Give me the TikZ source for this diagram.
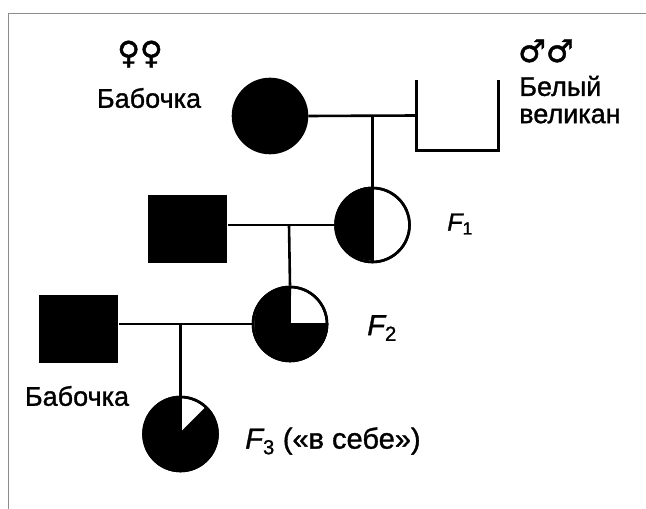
\documentclass[tikz,border=0pt]{standalone}
\usepackage{fontspec}
\setmainfont{Liberation Sans}[FakeBold=1.2]
\newfontfamily\symfont{DejaVu Sans}[FakeBold=1.5]
\begin{document}
\begin{tikzpicture}[x=1pt,y=1pt,
  line width=2.6pt,
  female/.style={circle, draw, minimum size=74pt, inner sep=0pt},
  male/.style={rectangle, minimum width=79pt, minimum height=68pt, inner sep=0pt},
  tag/.style={inner sep=0pt, font=\fontsize{27}{30}\selectfont},
  sym/.style={inner sep=0pt, font=\symfont\fontsize{31}{33}\selectfont},
  gen/.style={inner sep=0pt, font=\fontsize{29}{31}\selectfont\itshape}]
\useasboundingbox (0,0) rectangle (646,509);
% page frame
\draw[line width=1pt, black!45] (8,0) -- (8,495) -- (646,495);

% parents
\node[female, fill=black] (p1) at (270,393) {};
\node[male] (wg) at (457.5,393.5) {};
\draw (wg.north west) -- (wg.south west) -- (wg.south east) -- (wg.north east);
\draw (p1.east) -- (wg.west);
\coordinate (m1) at (372.5,393);

% F1 and its mate
\node[female] (f1) at (372.5,284) {};
\fill (f1.north) arc[start angle=90, end angle=270, radius=37pt] -- cycle;
\draw (f1.center) circle[radius=37pt];
\draw (f1.north) -- (f1.south);
\draw (m1) -- (f1.north);
\node[male, fill=black] (s1) at (187,280) {};
\draw (s1.east |- f1.west) -- (f1.west);
\coordinate (m2) at (289,284);

% F2 and its mate
\node[female] (f2) at (290,185) {};
\fill (f2.center) -- (f2.east) arc[start angle=0, end angle=-270, radius=37pt] -- cycle;
\draw (f2.center) circle[radius=37pt];
\draw (f2.north) -- (f2.center) -- (f2.east);
\draw (m2) -- (f2.north);
\node[male, fill=black] (s2) at (78.5,180) {};
\draw (s2.east |- f2.west) -- (f2.west);
\coordinate (m3) at (180.5,185);

% F3
\node[female] (f3) at (180.5,75) {};
\fill (f3.center) -- ++(45:37pt) arc[start angle=45, end angle=-270, radius=37pt] -- cycle;
\draw (f3.center) circle[radius=37pt];
\draw (f3.north) -- (f3.center) -- ++(45:37pt);
\draw (m3) -- (f3.north);

% labels
\node[sym] (sf) at (140,455) {♀♀};
\node[tag] (lb1) at (149,411) {Бабочка};
\node[sym] (sm) at (546,458) {♂♂};
\node[tag, anchor=west] (lw1) at (518,423) {Белый};
\node[tag, anchor=west] (lw2) at (518,393) {великан};
\node[tag] (lb2) at (77,113) {Бабочка};
\node[gen, font=\fontsize{25}{27}\selectfont\itshape, anchor=west] (g1) at (446,285) {F\textsubscript{\upshape 1}};
\node[gen, anchor=west] (g2) at (366,181) {F\textsubscript{\upshape 2}};
\node[gen, anchor=west] (g3) at (244,68) {F\textsubscript{\upshape 3}\upshape\ («в себе»)};
\end{tikzpicture}
\end{document}
